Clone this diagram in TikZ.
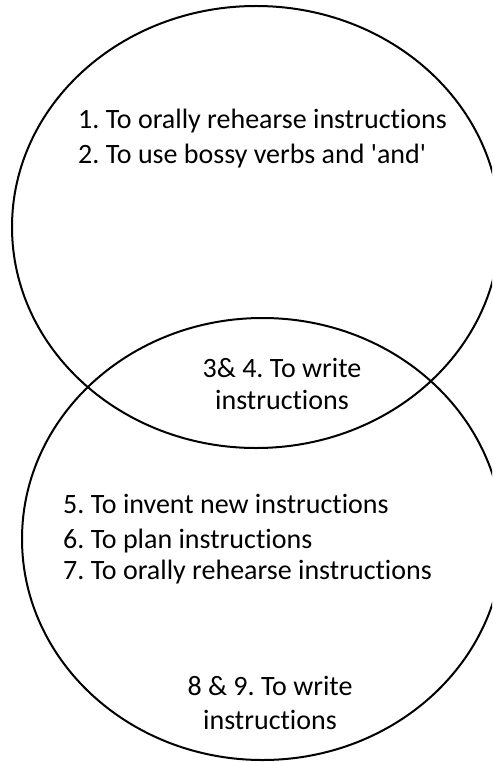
\documentclass[tikz,border=0pt]{standalone}
\usepackage{fontspec}
\setmainfont{Carlito}[Ligatures=NoCommon]
\begin{document}
\frenchspacing
\begin{tikzpicture}[x=1pt,y=-1pt,
  circ/.style={draw=black,line width=2pt},
  txt/.style={inner sep=0pt,font=\fontsize{28}{34}\selectfont}]
\useasboundingbox (0,0) rectangle (492,762);
\begin{scope}
\clip (0,0) rectangle (492,762);
\draw[circ] (256,227) ellipse [x radius=244, y radius=221];
\draw[circ] (262.5,539) ellipse [x radius=240.5, y radius=221];
\end{scope}
\node[txt,anchor=base west] (l1) at (78,129) {1. To orally rehearse instructions};
\node[txt,anchor=base west] (l2) at (78,164) {2. To use bossy verbs and \textquotesingle and\textquotesingle};
\node[txt,anchor=base] (l3) at (282,377) {3\& 4. To write};
\node[txt,anchor=base] (l4) at (282,409) {instructions};
\node[txt,anchor=base west] (l5) at (63,513) {5. To invent new instructions};
\node[txt,anchor=base west] (l6) at (63,548) {6. To plan instructions};
\node[txt,anchor=base west] (l7) at (63,579) {7. To orally rehearse instructions};
\node[txt,anchor=base] (l8) at (270,695) {8 \& 9. To write};
\node[txt,anchor=base] (l9) at (270,729) {instructions};
\end{tikzpicture}
\end{document}
